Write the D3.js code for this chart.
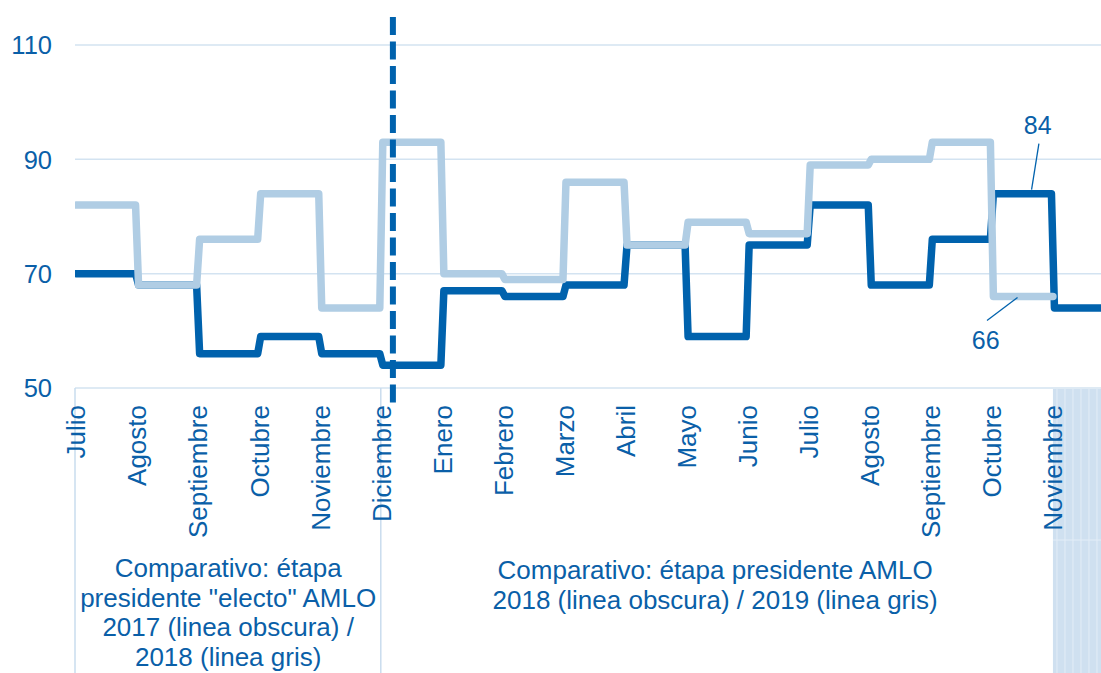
<!DOCTYPE html>
<html>
<head>
<meta charset="utf-8">
<script src="https://cdn.jsdelivr.net/npm/d3@7"></script>
<style>
  html, body { margin: 0; padding: 0; background: #ffffff; }
  svg { display: block; }
  text { font-family: "Liberation Sans", Arial, Helvetica, sans-serif; fill: #0a5fa8; }
</style>
</head>
<body>
<svg id="chart" width="1101" height="673"></svg>
<script>
// ---- Data ----
const months = ["Julio", "Agosto", "Septiembre", "Octubre", "Noviembre", "Diciembre",
  "Enero", "Febrero", "Marzo", "Abril", "Mayo", "Junio", "Julio", "Agosto",
  "Septiembre", "Octubre", "Noviembre"];
// dark line: 2017 (Jul-Dic) followed by 2018 (Ene-Nov)
const darkValues = [70, 68, 56, 59, 56, 54, 67, 66, 68, 75, 59, 75, 82, 68, 76, 84, 64];
// light line: 2018 (Jul-Dic) followed by 2019 (Ene-Oct)
const lightValues = [82, 68, 76, 84, 64, 93, 70, 69, 86, 75, 79, 77, 89, 90, 93, 66];
const yTicks = [50, 70, 90, 110];
const transitionIndex = 5.19;   // dashed line: start of AMLO presidency
const boxBreaks = [0, 5, 16];    // annotation box boundaries (month indices)
const leftNote = ["Comparativo: étapa", "presidente \"electo\" AMLO", "2017 (linea obscura) /", "2018 (linea gris)"];
const rightNote = ["Comparativo: étapa presidente AMLO", "2018 (linea obscura) / 2019 (linea gris)"];
const labelDark = { index: 15, value: 84 };
const labelLight = { index: 15, value: 66 };

// ---- Styles ----
const DARK = "#0062ad";
const LIGHT = "#b0cde4";
const GRID = "#d3e3f1";
const TEXT = "#0a5fa8";

const W = 1101, H = 673;
const svg = d3.select("#chart");

const x = d3.scaleLinear().domain([0, 17]).range([76, 1114]);
const y = d3.scaleLinear().domain([50, 110]).range([388, 45]);

// clip for plot area
svg.append("defs").append("clipPath").attr("id", "plotclip")
  .append("rect").attr("x", 75).attr("y", 0).attr("width", W - 75).attr("height", 420);

// hatched cell at bottom right
const hx0 = x(boxBreaks[2]);
const hatch = svg.append("g");
hatch.append("rect").attr("x", hx0).attr("y", y(50) + 1).attr("width", W - hx0).attr("height", H - y(50))
  .attr("fill", "#cfe0f0");
d3.range(hx0 + 4, W, 8).forEach(v => {
  hatch.append("line").attr("x1", v).attr("x2", v).attr("y1", y(50) + 1).attr("y2", H)
    .attr("stroke", "#e3edf7").attr("stroke-width", 1);
});
hatch.append("line").attr("x1", hx0).attr("x2", W).attr("y1", 540).attr("y2", 540)
  .attr("stroke", "#e3edf7").attr("stroke-width", 1);

// gridlines
svg.append("g").selectAll("line").data(yTicks).join("line")
  .attr("x1", x(0) - 1).attr("x2", W)
  .attr("y1", d => y(d)).attr("y2", d => y(d))
  .attr("stroke", GRID).attr("stroke-width", 1.5);

// y axis labels
svg.append("g").selectAll("text").data(yTicks).join("text")
  .attr("x", 52).attr("y", d => y(d)).attr("dy", "0.36em")
  .attr("text-anchor", "end").attr("font-size", 25.5).attr("fill", TEXT)
  .text(d => d);

// annotation box vertical lines
svg.append("g").selectAll("line").data(boxBreaks.slice(0, 2)).join("line")
  .attr("x1", d => x(d) - (d === 0 ? 1 : 0.5)).attr("x2", d => x(d) - (d === 0 ? 1 : 0.5))
  .attr("y1", y(50)).attr("y2", H)
  .attr("stroke", "#c9dcee").attr("stroke-width", 1.5);

// month labels
svg.append("g").selectAll("text").data(months).join("text")
  .attr("transform", (d, i) => `translate(${x(i)},405) rotate(-90)`)
  .attr("dy", "0.36em").attr("text-anchor", "end")
  .attr("font-size", 26).attr("fill", TEXT)
  .text(d => d);

// step line builder with slight slant on risers
function stepPoints(vals, endIndex) {
  const s = 1.5;
  const pts = [[x(0), y(vals[0])]];
  for (let i = 1; i < vals.length; i++) {
    pts.push([x(i) - s, y(vals[i - 1])]);
    pts.push([x(i) + s, y(vals[i])]);
  }
  pts.push([x(endIndex), y(vals[vals.length - 1])]);
  return pts;
}
const line = d3.line();

const lines = svg.append("g").attr("clip-path", "url(#plotclip)");
lines.append("path").attr("d", line(stepPoints(darkValues, darkValues.length)))
  .attr("fill", "none").attr("stroke", DARK).attr("stroke-width", 7.5)
  .attr("stroke-linejoin", "round").attr("stroke-linecap", "round");
lines.append("path").attr("d", line(stepPoints(lightValues, lightValues.length)))
  .attr("fill", "none").attr("stroke", LIGHT).attr("stroke-width", 7.5)
  .attr("stroke-linejoin", "round").attr("stroke-linecap", "round");

// dashed transition line
svg.append("line")
  .attr("x1", x(transitionIndex)).attr("x2", x(transitionIndex))
  .attr("y1", 17).attr("y2", 405)
  .attr("stroke", DARK).attr("stroke-width", 6)
  .attr("stroke-dasharray", "18,6.5");

// data labels with leader lines
const lab = svg.append("g");
lab.append("line")
  .attr("x1", x(labelDark.index + 0.65)).attr("y1", y(labelDark.value) - 4)
  .attr("x2", x(labelDark.index + 0.77)).attr("y2", y(labelDark.value) - 50)
  .attr("stroke", DARK).attr("stroke-width", 1.3);
lab.append("text")
  .attr("x", x(labelDark.index + 0.75)).attr("y", y(labelDark.value) - 60)
  .attr("text-anchor", "middle").attr("font-size", 25).attr("fill", TEXT)
  .text(labelDark.value);
lab.append("line")
  .attr("x1", x(labelLight.index + 0.42)).attr("y1", y(labelLight.value) + 1)
  .attr("x2", x(labelLight.index - 0.08)).attr("y2", y(labelLight.value) + 24)
  .attr("stroke", DARK).attr("stroke-width", 1.3);
lab.append("text")
  .attr("x", x(labelLight.index - 0.1)).attr("y", y(labelLight.value) + 52)
  .attr("text-anchor", "middle").attr("font-size", 25).attr("fill", TEXT)
  .text(labelLight.value);

// annotation notes
function note(lines, cx, y0, lh) {
  const t = svg.append("text").attr("text-anchor", "middle").attr("font-size", 26).attr("fill", TEXT);
  lines.forEach((l, i) => {
    t.append("tspan").attr("x", cx).attr("y", y0 + i * lh).text(l);
  });
}
note(leftNote, (x(boxBreaks[0]) + x(boxBreaks[1])) / 2 - 0.5, 577, 29.6);
note(rightNote, (x(boxBreaks[1]) + x(boxBreaks[2])) / 2 - 2, 579, 30.2);
</script>
</body>
</html>
